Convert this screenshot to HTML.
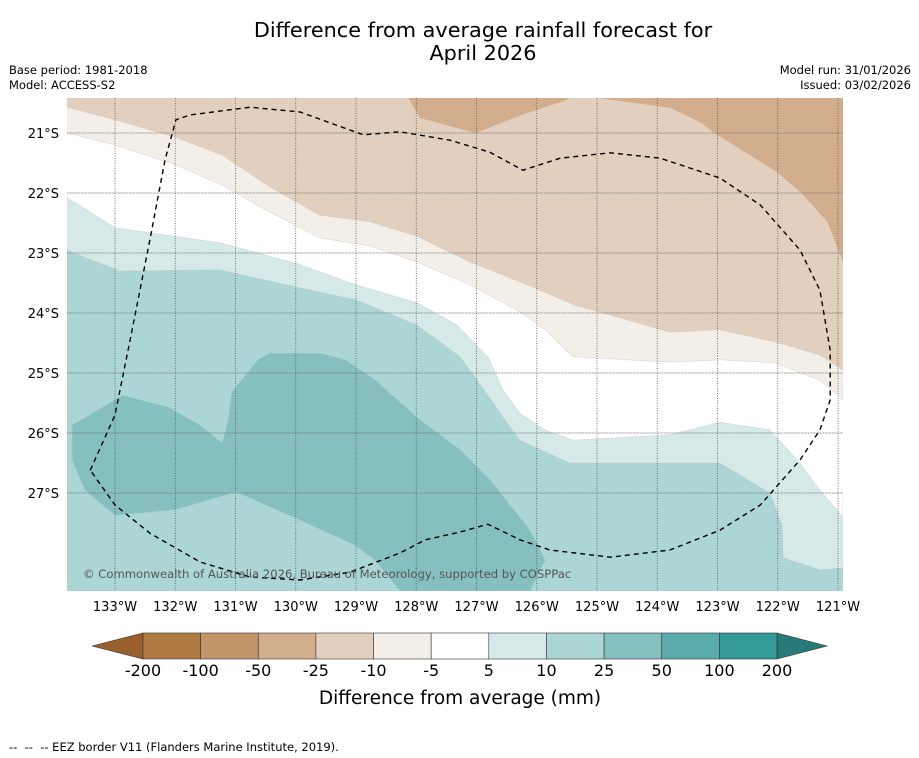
<!DOCTYPE html>
<html><head><meta charset="utf-8">
<style>
body{margin:0;background:#fff;font-family:"DejaVu Sans","Liberation Sans",sans-serif;}
#wrap{position:relative;width:919px;height:758px;overflow:hidden;background:#fff}
.t{position:absolute;white-space:nowrap;color:#000}
</style></head>
<body>
<div id="wrap">
<div class="t" style="left:0;width:966px;top:19px;font-size:20.8px;text-align:center;line-height:23px">Difference from average rainfall forecast for<br>April 2026</div>
<div class="t" style="left:9px;top:63px;font-size:11.5px">Base period: 1981-2018</div>
<div class="t" style="left:9px;top:78px;font-size:11.5px">Model: ACCESS-S2</div>
<div class="t" style="right:8px;top:63px;font-size:11.5px;text-align:right">Model run: 31/01/2026</div>
<div class="t" style="right:8px;top:78px;font-size:11.5px;text-align:right">Issued: 03/02/2026</div>
<svg id="map" width="919" height="758" style="position:absolute;left:0;top:0"></svg>
<div class="t" style="left:9px;top:740px;font-size:11.5px">--&nbsp; --&nbsp; -- EEZ border V11 (Flanders Marine Institute, 2019).</div>
</div>
<script>
const lonTicks=[-133,-132,-131,-130,-129,-128,-127,-126,-125,-124,-123,-122,-121];
const latTicks=[-21,-22,-23,-24,-25,-26,-27];
const cbLevels=["-200","-100","-50","-25","-10","-5","5","10","25","50","100","200"];
const cbColors=["#b07a43","#c19469","#d2ae8f","#e3cfbd","#f3eee8","#ffffff","#d5e9e9","#acd5d5","#85bfbf","#5aabab","#339a98"];
// contour boundaries [lon,lat]
const lineD=[[-133.8,-20.57],[-133,-20.78],[-132,-21.07],[-131.22,-21.37],[-130.43,-21.9],[-129.6,-22.37],[-128.77,-22.48],[-127.99,-22.72],[-127.11,-23.15],[-126.28,-23.48],[-125.37,-23.87],[-124.62,-24.08],[-123.79,-24.32],[-122.96,-24.28],[-122.05,-24.48],[-121.3,-24.7],[-120.92,-24.95]];
const lineC=[[-133.8,-21],[-133,-21.2],[-132,-21.53],[-131.22,-21.87],[-130.43,-22.32],[-129.6,-22.75],[-128.77,-22.88],[-127.99,-23.15],[-127.11,-23.53],[-126.28,-23.98],[-125.86,-24.28],[-125.4,-24.73],[-123.79,-24.82],[-122.96,-24.78],[-122.05,-24.83],[-121.3,-25.12],[-120.92,-25.45]];
const lineB=[[-133.8,-22.07],[-133,-22.58],[-131.26,-22.83],[-130,-23.17],[-129,-23.53],[-127.99,-23.83],[-127.32,-24.2],[-126.81,-24.73],[-126.56,-25.28],[-126.28,-25.67],[-125.86,-25.95],[-125.4,-26.12],[-123.79,-26.03],[-122.96,-25.82],[-122.13,-25.95],[-121.63,-26.5],[-121.3,-26.95],[-120.92,-27.4]];
const lineA=[[-133.8,-22.95],[-132.92,-23.3],[-131.26,-23.28],[-129.93,-23.58],[-129,-23.78],[-127.99,-24.2],[-127.27,-24.73],[-126.81,-25.37],[-126.53,-25.78],[-126.28,-26.12],[-125.45,-26.5],[-122.96,-26.5],[-122.13,-27],[-121.93,-27.53],[-121.91,-28.08],[-121.3,-28.28],[-120.92,-28.25]];
const darkPatch1=[[-128.2,-20.3],[-127.94,-20.75],[-127.02,-21.0],[-126.25,-20.7],[-125.5,-20.45],[-125.4,-20.3]];
const darkPatch2=[[-125.0,-20.3],[-124.95,-20.42],[-123.79,-20.58],[-123.29,-20.82],[-123.01,-21.03],[-122.01,-21.65],[-121.58,-22.03],[-121.18,-22.48],[-120.92,-23.15],[-120.8,-20.3]];
const blob=[[-133.71,-25.87],[-133.71,-26.45],[-133.5,-26.95],[-133,-27.37],[-132,-27.28],[-130.99,-26.98],[-129.93,-27.45],[-129.02,-27.87],[-128.68,-28.12],[-128.27,-28.63],[-126.11,-28.63],[-125.86,-28.12],[-126.11,-27.62],[-126.78,-26.78],[-127.27,-26.28],[-127.94,-25.78],[-128.68,-25.12],[-129.18,-24.78],[-129.6,-24.67],[-130.43,-24.67],[-130.63,-24.78],[-131.06,-25.32],[-131.12,-25.78],[-131.22,-26.17],[-131.59,-25.87],[-132.09,-25.58],[-132.87,-25.37]];
const eez=[[-133.41,-26.62],[-133,-25.7],[-132.75,-24.45],[-132.42,-22.78],[-132.17,-21.45],[-131.99,-20.78],[-131.76,-20.7],[-130.76,-20.57],[-129.93,-20.65],[-128.88,-21.03],[-128.27,-20.98],[-127.44,-21.12],[-126.78,-21.32],[-126.23,-21.62],[-125.61,-21.42],[-124.78,-21.33],[-123.95,-21.42],[-122.96,-21.75],[-122.29,-22.2],[-121.63,-22.95],[-121.3,-23.62],[-121.13,-24.62],[-121.13,-25.45],[-121.3,-25.95],[-121.63,-26.45],[-122.29,-27.2],[-122.96,-27.62],[-123.79,-27.95],[-124.78,-28.07],[-125.78,-27.95],[-126.28,-27.78],[-126.81,-27.52],[-127.27,-27.65],[-127.85,-27.78],[-128.27,-28],[-129.1,-28.32],[-129.93,-28.45],[-130.76,-28.4],[-131.59,-28.15],[-132.42,-27.67],[-133,-27.2],[-133.41,-26.62]];

const X0=67,X1=843,Y0=98,Y1=591;
const sx=lon=>115+(lon+133)*60.25;
const sy=lat=>133+(-21-lat)*60;
const NS='http://www.w3.org/2000/svg';
const svg=document.getElementById('map');
function mk(tag,attrs,parent){const e=document.createElementNS(NS,tag);for(const k in attrs)e.setAttribute(k,attrs[k]);(parent||svg).appendChild(e);return e;}
const pts=a=>a.map(p=>sx(p[0]).toFixed(1)+','+sy(p[1]).toFixed(1));
const clip=mk('clipPath',{id:'mc'},mk('defs',{}));
mk('rect',{x:X0,y:Y0,width:X1-X0,height:Y1-Y0},clip);
const g=mk('g',{'clip-path':'url(#mc)'});


const base=mk('rect',{x:X0,y:Y0,width:X1-X0,height:Y1-Y0,fill:cbColors[7]},g);


function north(line,color,name){
  const p=pts(line);
  const el=mk('polygon',{points:p.join(' ')+' '+(X1+5)+','+(Y0-5)+' '+(X0-5)+','+(Y0-5),fill:color,stroke:'#c8c8c8','stroke-width':0.4},g);
  
  
}
north(lineA,cbColors[6],'band-5-10');
north(lineB,cbColors[5],'band-neutral');
north(lineC,cbColors[4],'band-minus5-minus10');
north(lineD,cbColors[3],'band-minus10-minus25');
const d1=mk('polygon',{points:pts(darkPatch1).join(' '),fill:cbColors[2]},g);


const d2=mk('polygon',{points:pts(darkPatch2).join(' '),fill:cbColors[2]},g);


const bl=mk('polygon',{points:pts(blob).join(' '),fill:cbColors[8],stroke:'#9cc','stroke-width':0.4},g);


// grid
lonTicks.forEach(l=>{const ln=mk('line',{x1:sx(l),x2:sx(l),y1:Y0,y2:Y1,stroke:'#555','stroke-width':0.8,'stroke-dasharray':'1,1.5'},g);
 });
latTicks.forEach(l=>{const ln=mk('line',{x1:X0,x2:X1,y1:sy(l),y2:sy(l),stroke:'#777','stroke-width':0.8,'stroke-dasharray':'1,0.5'},g);
 });
const ez=mk('polyline',{points:pts(eez).join(' '),fill:'none',stroke:'#000','stroke-width':1.4,'stroke-dasharray':'5,4'},g);


const cp=mk('text',{x:83,y:578,'font-size':11.6,fill:'#555','font-family':'DejaVu Sans, Liberation Sans, sans-serif'});
cp.textContent='© Commonwealth of Australia 2026, Bureau of Meteorology, supported by COSPPac';


// tick labels
lonTicks.forEach(l=>{const t=mk('text',{x:sx(l),y:611,'font-size':13,'text-anchor':'middle','font-family':'DejaVu Sans, Liberation Sans, sans-serif'});
 t.textContent=Math.abs(l)+'°W';});
latTicks.forEach(l=>{const t=mk('text',{x:59,y:sy(l)+5,'font-size':13,'text-anchor':'end','font-family':'DejaVu Sans, Liberation Sans, sans-serif'});
 t.textContent=Math.abs(l)+'°S';});
// colorbar
const cbX0=143,cbX1=777,cbY=633,cbH=26,n=cbColors.length,w=(cbX1-cbX0)/n;
const lt=mk('polygon',{points:`${cbX0},${cbY} ${cbX0},${cbY+cbH} 92,${cbY+cbH/2}`,fill:'#9a602b',stroke:'#333','stroke-width':0.6});

const rt=mk('polygon',{points:`${cbX1},${cbY} ${cbX1},${cbY+cbH} 827,${cbY+cbH/2}`,fill:'#287a78',stroke:'#333','stroke-width':0.6});

cbColors.forEach((c,i)=>{const r=mk('rect',{x:cbX0+i*w,y:cbY,width:w,height:cbH,fill:c,stroke:'#333','stroke-width':0.6});
 });
cbLevels.forEach((s,i)=>{const t=mk('text',{x:cbX0+i*w,y:676,'font-size':16,'text-anchor':'middle','font-family':'DejaVu Sans, Liberation Sans, sans-serif'});
 t.textContent=s;});
const ct=mk('text',{x:460,y:704,'font-size':18.5,'text-anchor':'middle','font-family':'DejaVu Sans, Liberation Sans, sans-serif'});
ct.textContent='Difference from average (mm)';

</script>
</body></html>
